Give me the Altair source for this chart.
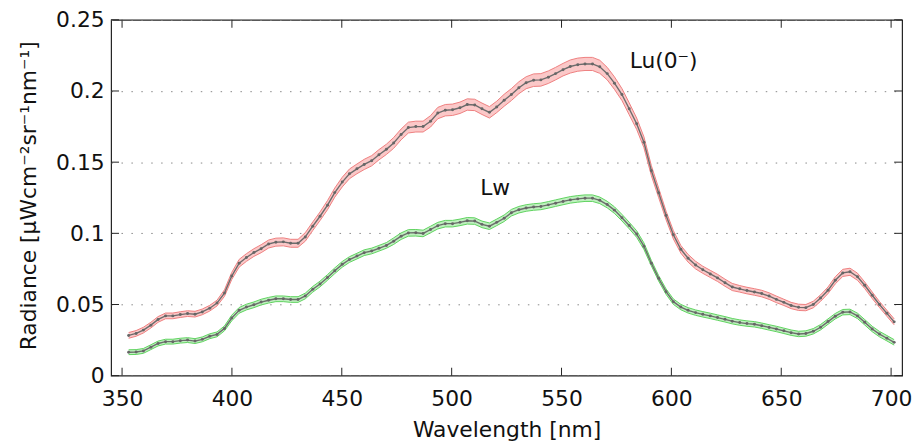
import altair as alt
import pandas as pd

# ---------------- data ----------------
wavelength = [353.0, 356.4, 359.7, 363.1, 366.4, 369.8, 373.1, 376.5, 379.8, 383.2,
              386.5, 389.9, 393.2, 396.6, 399.9, 403.3, 406.6, 410.0, 413.3, 416.7,
              420.0, 423.4, 426.7, 430.1, 433.4, 436.8, 440.1, 443.5, 446.8, 450.2,
              453.5, 456.9, 460.2, 463.6, 466.9, 470.3, 473.6, 477.0, 480.3, 483.7,
              487.0, 490.4, 493.7, 497.1, 500.4, 503.8, 507.1, 510.5, 513.8, 517.2,
              520.5, 523.9, 527.2, 530.6, 533.9, 537.3, 540.6, 544.0, 547.3, 550.7,
              554.0, 557.4, 560.7, 564.1, 567.4, 570.8, 574.1, 577.5, 580.8, 584.2,
              587.5, 590.9, 594.2, 597.6, 600.9, 604.3, 607.6, 611.0, 614.3, 617.7,
              621.0, 624.4, 627.7, 631.1, 634.4, 637.8, 641.1, 644.5, 647.8, 651.2,
              654.5, 657.9, 661.2, 664.6, 667.9, 671.3, 674.6, 678.0, 681.3, 684.7,
              688.0, 691.4, 694.7, 698.1, 701.4]

lu = [0.0283, 0.0297, 0.0320, 0.0355, 0.0395, 0.0420, 0.0420, 0.0429, 0.0436, 0.0432,
      0.0448, 0.0474, 0.0510, 0.0580, 0.0700, 0.0790, 0.0830, 0.0865, 0.0892, 0.0925,
      0.0938, 0.0940, 0.0930, 0.0930, 0.0975, 0.1050, 0.1120, 0.1198, 0.1286, 0.1360,
      0.1418, 0.1453, 0.1484, 0.1510, 0.1552, 0.1590, 0.1635, 0.1695, 0.1743, 0.1750,
      0.1750, 0.1787, 0.1845, 0.1865, 0.1868, 0.1882, 0.1905, 0.1902, 0.1875, 0.1850,
      0.1888, 0.1935, 0.1975, 0.2023, 0.2058, 0.2076, 0.2078, 0.2097, 0.2122, 0.2150,
      0.2172, 0.2185, 0.2190, 0.2190, 0.2170, 0.2122, 0.2055, 0.1975, 0.1875, 0.1770,
      0.1640, 0.1440, 0.1285, 0.1125, 0.0990, 0.0888, 0.0825, 0.0777, 0.0744, 0.0715,
      0.0687, 0.0653, 0.0623, 0.0610, 0.0598, 0.0588, 0.0577, 0.0559, 0.0536, 0.0515,
      0.0493, 0.0480, 0.0478, 0.0500, 0.0545, 0.0600, 0.0670, 0.0722, 0.0730, 0.0695,
      0.0635, 0.0565, 0.0500, 0.0438, 0.0378]

lw = [0.0165, 0.0166, 0.0174, 0.0200, 0.0226, 0.0239, 0.0239, 0.0246, 0.0250, 0.0243,
      0.0255, 0.0277, 0.0290, 0.0332, 0.0405, 0.0459, 0.0482, 0.0498, 0.0517, 0.0530,
      0.0540, 0.0540, 0.0535, 0.0535, 0.0560, 0.0607, 0.0644, 0.0690, 0.0737, 0.0782,
      0.0816, 0.0840, 0.0864, 0.0876, 0.0895, 0.0915, 0.0945, 0.0980, 0.1003, 0.1004,
      0.0999, 0.1027, 0.1054, 0.1068, 0.1068, 0.1077, 0.1088, 0.1086, 0.1063, 0.1050,
      0.1077, 0.1106, 0.1145, 0.1166, 0.1178, 0.1185, 0.1189, 0.1200, 0.1212, 0.1224,
      0.1235, 0.1242, 0.1247, 0.1247, 0.1232, 0.1202, 0.1163, 0.1110, 0.1055, 0.0995,
      0.0910, 0.0790, 0.0684, 0.0590, 0.0520, 0.0482, 0.0459, 0.0443, 0.0431, 0.0420,
      0.0408, 0.0396, 0.0383, 0.0373, 0.0366, 0.0361, 0.0351, 0.0339, 0.0328, 0.0315,
      0.0302, 0.0293, 0.0296, 0.0312, 0.0340, 0.0380, 0.0418, 0.0446, 0.0448, 0.0420,
      0.0375, 0.0328, 0.0292, 0.0263, 0.0234]

# half-width of the shaded uncertainty bands
lu_band = [0.0020, 0.0020, 0.0020, 0.0020, 0.0020, 0.0020, 0.0020, 0.0020, 0.0020, 0.0020,
           0.0020, 0.0020, 0.0020, 0.0023, 0.0025, 0.0027, 0.0027, 0.0027, 0.0028, 0.0028,
           0.0028, 0.0028, 0.0028, 0.0028, 0.0030, 0.0030, 0.0030, 0.0032, 0.0032, 0.0034,
           0.0034, 0.0034, 0.0036, 0.0036, 0.0036, 0.0036, 0.0038, 0.0038, 0.0038, 0.0038,
           0.0038, 0.0040, 0.0040, 0.0040, 0.0040, 0.0040, 0.0040, 0.0040, 0.0040, 0.0040,
           0.0040, 0.0042, 0.0042, 0.0042, 0.0042, 0.0044, 0.0044, 0.0044, 0.0044, 0.0044,
           0.0046, 0.0046, 0.0046, 0.0046, 0.0046, 0.0044, 0.0044, 0.0042, 0.0042, 0.0040,
           0.0038, 0.0035, 0.0033, 0.0030, 0.0029, 0.0027, 0.0027, 0.0027, 0.0025, 0.0025,
           0.0025, 0.0025, 0.0025, 0.0023, 0.0023, 0.0023, 0.0023, 0.0023, 0.0023, 0.0022,
           0.0022, 0.0022, 0.0022, 0.0023, 0.0023, 0.0023, 0.0025, 0.0025, 0.0025, 0.0025,
           0.0023, 0.0023, 0.0021, 0.0021, 0.0021]

lw_band = [0.0017, 0.0017, 0.0017, 0.0017, 0.0017, 0.0017, 0.0017, 0.0017, 0.0017, 0.0017,
           0.0017, 0.0017, 0.0017, 0.0017, 0.0020, 0.0020, 0.0020, 0.0020, 0.0020, 0.0020,
           0.0020, 0.0020, 0.0020, 0.0020, 0.0020, 0.0020, 0.0020, 0.0020, 0.0020, 0.0020,
           0.0020, 0.0020, 0.0020, 0.0020, 0.0020, 0.0020, 0.0023, 0.0023, 0.0023, 0.0023,
           0.0023, 0.0023, 0.0023, 0.0023, 0.0023, 0.0023, 0.0023, 0.0023, 0.0023, 0.0023,
           0.0023, 0.0023, 0.0023, 0.0023, 0.0023, 0.0023, 0.0023, 0.0023, 0.0023, 0.0023,
           0.0023, 0.0023, 0.0023, 0.0023, 0.0023, 0.0023, 0.0023, 0.0023, 0.0023, 0.0023,
           0.0023, 0.0019, 0.0019, 0.0019, 0.0019, 0.0019, 0.0019, 0.0019, 0.0019, 0.0019,
           0.0019, 0.0019, 0.0019, 0.0019, 0.0019, 0.0019, 0.0019, 0.0019, 0.0019, 0.0019,
           0.0019, 0.0019, 0.0019, 0.0019, 0.0019, 0.0019, 0.0019, 0.0019, 0.0019, 0.0019,
           0.0019, 0.0019, 0.0019, 0.0019, 0.0019]

x_ticks = [350, 400, 450, 500, 550, 600, 650, 700]
y_ticks = [0, 0.05, 0.1, 0.15, 0.2, 0.25]

label_text = ["Lu(0⁻)", "Lw"]
label_x = [581, 513]
label_y = [0.221, 0.1317]

# ---------------- chart ----------------
W, H = 798, 359
FONT = "DejaVu Sans"
FS = 22

df = pd.DataFrame({"wl": wavelength, "lu": lu, "lw": lw,
                   "lu_b": lu_band, "lw_b": lw_band})
df["lu_lo"] = df["lu"] - df["lu_b"]
df["lu_hi"] = df["lu"] + df["lu_b"]
df["lw_lo"] = df["lw"] - df["lw_b"]
df["lw_hi"] = df["lw"] + df["lw_b"]

xt = pd.DataFrame({"t": x_ticks})
yt = pd.DataFrame({"t": y_ticks})
lab = pd.DataFrame({"txt": label_text, "lx": label_x, "ly": label_y})

xs = alt.Scale(domain=[345, 705], nice=False, zero=False)
ys = alt.Scale(domain=[0, 0.25], nice=False, zero=False)

xaxis = alt.Axis(values=x_ticks, format="d", ticks=False, tickSize=0, domain=False,
                 grid=False, labelPadding=30, labelBaseline="alphabetic",
                 labelFontSize=FS, labelFont=FONT, labelColor="#111",
                 labelFlush=False, labelOverlap=False,
                 title="Wavelength [nm]", titleFontSize=FS, titleFont=FONT,
                 titleFontWeight="normal", titleColor="#111",
                 titleY=61, titleBaseline="alphabetic")
yaxis = alt.Axis(values=y_ticks, format="~g", ticks=False, tickSize=0, domain=False,
                 grid=True, gridDash=[1.5, 8.5], gridColor="#888", gridWidth=1,
                 labelPadding=7, labelBaseline="middle",
                 labelFontSize=FS, labelFont=FONT, labelColor="#111",
                 labelFlush=False, labelOverlap=False,
                 title="Radiance [µWcm⁻²sr⁻¹nm⁻¹]", titleFontSize=FS, titleFont=FONT,
                 titleFontWeight="normal", titleColor="#111",
                 titleX=-83, titleY=177, titleBaseline="middle", titleAlign="center")


def X(f):
    return alt.X(f, type="quantitative", scale=xs, axis=xaxis)


def Y(f):
    return alt.Y(f, type="quantitative", scale=ys, axis=yaxis)


base = alt.Chart(df)

layers = []
for key, fill, edge in [("lu", "#fbc8c8", "#ee8080"), ("lw", "#bff0bf", "#5fd25f")]:
    layers.append(base.mark_area(color=fill, opacity=1).encode(
        x=X("wl"), y=Y(key + "_lo"), y2=alt.Y2(key + "_hi")))
    layers.append(base.mark_line(color=edge, strokeWidth=1).encode(
        x=X("wl"), y=Y(key + "_lo")))
    layers.append(base.mark_line(color=edge, strokeWidth=1).encode(
        x=X("wl"), y=Y(key + "_hi")))
    layers.append(base.mark_line(color="#6c6c6c", strokeWidth=1.4).encode(
        x=X("wl"), y=Y(key)))
    layers.append(base.mark_circle(color="#666666", size=9, opacity=1).encode(
        x=X("wl"), y=Y(key)))

tick_col = "#222"
layers.append(alt.Chart(xt).mark_rule(color=tick_col, strokeWidth=1).encode(
    x=X("t"), y=alt.value(H), y2=alt.value(H - 8)))
layers.append(alt.Chart(xt).mark_rule(color=tick_col, strokeWidth=1).encode(
    x=X("t"), y=alt.value(0), y2=alt.value(8)))
layers.append(alt.Chart(yt).mark_rule(color=tick_col, strokeWidth=1).encode(
    y=Y("t"), x=alt.value(0), x2=alt.value(8)))
layers.append(alt.Chart(yt).mark_rule(color=tick_col, strokeWidth=1).encode(
    y=Y("t"), x=alt.value(W), x2=alt.value(W - 8)))

layers.append(alt.Chart(lab).mark_text(align="left", baseline="middle", font=FONT,
                                       fontSize=FS, color="#111").encode(
    x=X("lx"), y=Y("ly"), text="txt:N"))

chart = alt.layer(*layers).properties(
    width=W, height=H,
    autosize=alt.AutoSizeParams(type="none"),
    padding={"left": 104, "top": 10, "right": 10, "bottom": 66},
    background="white",
).configure_view(stroke="#222", strokeWidth=1.2)

chart.save("out.html", embed_options={"renderer": "svg", "actions": False})
